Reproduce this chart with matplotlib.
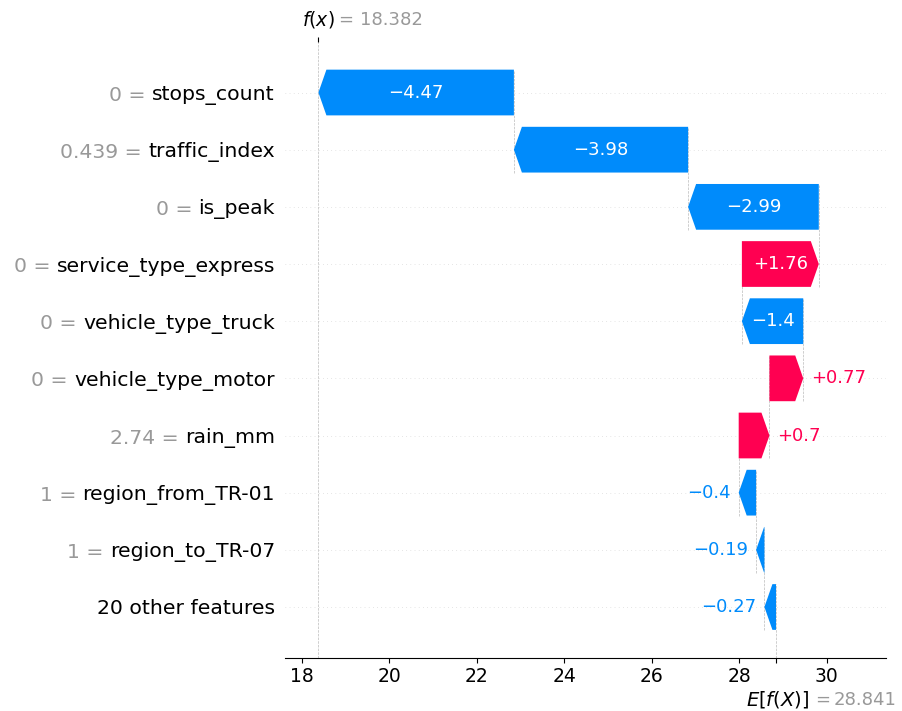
import matplotlib
matplotlib.use("Agg")
import matplotlib.pyplot as plt
import matplotlib.transforms as mtransforms
import numpy as np

# ---- data (top row first) ----
feature_values = ["0", "0.439", "0", "0", "0", "0", "2.74", "1", "1", None]
feature_names = ["stops_count", "traffic_index", "is_peak", "service_type_express",
                 "vehicle_type_truck", "vehicle_type_motor", "rain_mm",
                 "region_from_TR-01", "region_to_TR-07", "20 other features"]
shap_values = [-4.468, -3.982, -2.987, 1.758, -1.402, 0.772, 0.703, -0.398, -0.190, -0.265]
bar_labels = ["\u22124.47", "\u22123.98", "\u22122.99", "+1.76", "\u22121.4", "+0.77",
              "+0.7", "\u22120.4", "\u22120.19", "\u22120.27"]
base_value = 28.841
fx_value = 18.382
base_text = "28.841"
fx_text = "18.382"
xticks = [18, 20, 22, 24, 26, 28, 30]

RED = "#ff0051"
BLUE = "#008bfb"
GRAY = "#999999"

W, H, DPI = 902, 711, 100
fig = plt.figure(figsize=(W / DPI, H / DPI), dpi=DPI)
ax = fig.add_axes([285 / W, 1 - 657.7 / H, (886 - 285) / W, (657.7 - 41.7) / H])

n = len(feature_names)
rows = list(range(n - 1, -1, -1))  # top row gets highest y
ax.set_ylim(-0.887, 9.889)
ax.set_xlim(17.618, 31.355)

px_per_unit = (886 - 285) / (31.355 - 17.618)
hl = 8.0 / px_per_unit
bar_w = 0.8

for r in rows:
    ax.axhline(r, color="#cccccc", lw=0.5, dashes=(1, 5), zorder=-1)

cur = base_value
starts = [0.0] * n
for i in range(n - 1, -1, -1):
    starts[i] = cur
    cur = cur + shap_values[i]

fig.canvas.draw()
renderer = fig.canvas.get_renderer()

for i in range(n):
    y = rows[i]
    v = shap_values[i]
    s = starts[i]
    col = RED if v > 0 else BLUE
    head = min(abs(v), hl)
    ax.add_patch(matplotlib.patches.FancyArrow(
        s, y, v, 0, width=bar_w, head_width=bar_w, head_length=head,
        length_includes_head=True, color=col, lw=0, zorder=2))
    if i > 0:
        end = s + v
        ax.plot([end, end], [y - 0.4, y + 1 + 0.4], color="#bbbbbb",
                ls="--", lw=0.5, zorder=-1)
    t = ax.text(s + v / 2.0, y, bar_labels[i], ha="center", va="center",
                color="white", fontsize=13, zorder=3)
    tw = t.get_window_extent(renderer=renderer).width
    bar_px = abs(v) * px_per_unit
    if tw > bar_px - 10:
        t.remove()
        off = 8.0 / px_per_unit
        if v > 0:
            ax.text(s + v + off, y, bar_labels[i], ha="left", va="center",
                    color=col, fontsize=13, zorder=3)
        else:
            ax.text(s + v - off, y, bar_labels[i], ha="right", va="center",
                    color=col, fontsize=13, zorder=3)

ax.axvline(fx_value, 0, 1, color="#bbbbbb", ls="--", lw=0.5, zorder=-1)
ax.plot([base_value, base_value], [-0.887, rows[-1] + 0.4], color="#bbbbbb",
        ls="--", lw=0.5, zorder=-1)

# y tick labels: names in black, value prefix in gray to the left
YFS = 14.7
ax.set_yticks(rows)
ax.set_yticklabels(feature_names, fontsize=YFS, color="black")
ax.tick_params(axis="y", length=0, pad=7.2)

ax.set_xticks(xticks)
ax.set_xticklabels([str(t) for t in xticks], fontsize=13.5)
for sp in ["left", "right", "top"]:
    ax.spines[sp].set_visible(False)

fig.canvas.draw()
inv = fig.transFigure.inverted()
space_px = 0.318 * YFS * DPI / 72.0
for lab, val in zip(ax.yaxis.get_majorticklabels(), feature_values):
    if val is None:
        continue
    bb = lab.get_window_extent(renderer=renderer)
    xr = bb.x0 - space_px
    yc = (bb.y0 + bb.y1) / 2.0
    fxp, fyp = inv.transform((xr, yc))
    fig.text(fxp, fyp, f"{val} =", ha="right", va="center",
             fontsize=YFS, color=GRAY)

# top tick at f(x)
ax2 = ax.twiny()
ax2.set_xlim(ax.get_xlim())
ax2.set_xticks([fx_value])
ax2.set_xticklabels([""])
for sp in ["left", "right", "top", "bottom"]:
    ax2.spines[sp].set_visible(False)

# bottom tick at base value
ax3 = ax.twiny()
ax3.set_xlim(ax.get_xlim())
ax3.xaxis.set_ticks_position("bottom")
ax3.set_xticks([base_value])
ax3.set_xticklabels([""])
for sp in ["left", "right", "top", "bottom"]:
    ax3.spines[sp].set_visible(False)

trans_top = mtransforms.blended_transform_factory(ax.transData, ax.transAxes)
p = 72.0 / DPI

def lab(txt, x, yax, dx, dy, fs, color):
    ax.annotate(txt, xy=(x, yax), xycoords=trans_top,
                xytext=(dx * p, dy * p), textcoords="offset points",
                ha="left", va="center", fontsize=fs, color=color,
                annotation_clip=False)

lab("$f(x)$", fx_value, 1, -16, 22, 13.5, "black")
lab("=", fx_value, 1, 20, 22, 13, GRAY)
lab(fx_text, fx_value, 1, 42, 22, 13, GRAY)
lab("$E[f(X)]$", base_value, 0, -30.5, -42, 14, "black")
lab("=", base_value, 0, 39, -42, 13, GRAY)
lab(base_text, base_value, 0, 57.5, -42, 13, GRAY)

fig.savefig("out.png", dpi=DPI)
